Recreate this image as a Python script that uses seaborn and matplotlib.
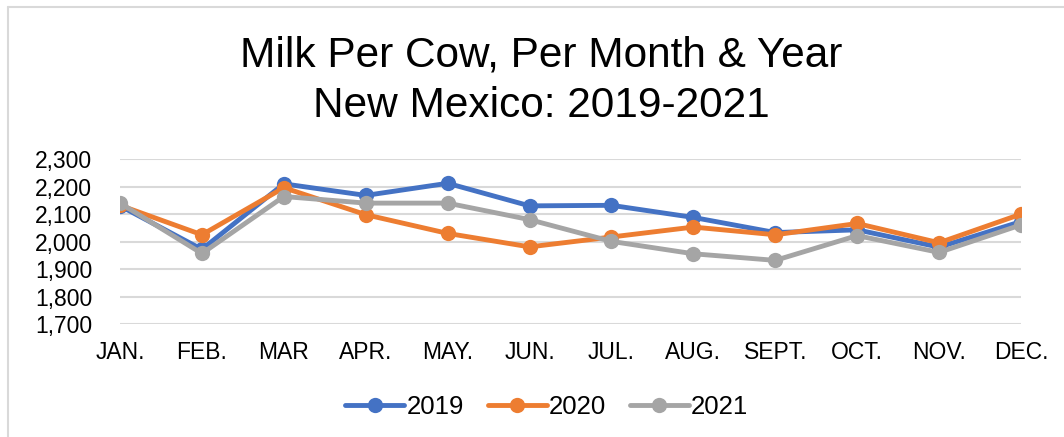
import numpy as np
import pandas as pd
import matplotlib
matplotlib.use("Agg")
import matplotlib.pyplot as plt
import seaborn as sns
from matplotlib.lines import Line2D
from matplotlib.ticker import FuncFormatter

# === DATA ===
months = ["JAN.", "FEB.", "MAR", "APR.", "MAY.", "JUN.", "JUL.", "AUG.",
          "SEPT.", "OCT.", "NOV.", "DEC."]
milk_2019 = [2130, 1972, 2210, 2168, 2212, 2130, 2132, 2088, 2033, 2043, 1980, 2073]
milk_2020 = [2132, 2025, 2196, 2098, 2030, 1981, 2017, 2053, 2025, 2066, 1996, 2100]
milk_2021 = [2140, 1957, 2164, 2140, 2140, 2080, 2001, 1956, 1932, 2022, 1961, 2061]
years = ["2019", "2020", "2021"]
colors = ["#4472C4", "#ED7D31", "#A5A5A5"]

df = pd.DataFrame({"month": months * 3,
                   "pos": list(range(12)) * 3,
                   "year": sum([[y] * 12 for y in years], []),
                   "milk": milk_2019 + milk_2020 + milk_2021})

# === SETTINGS ===
sns.set_style("white")
plt.rcParams["font.family"] = ["Liberation Sans", "DejaVu Sans"]
plt.rcParams["text.color"] = "black"

fig = plt.figure(figsize=(10.64, 4.37), dpi=100)
ax = fig.add_axes([0.1128, 0.258, 0.8468, 0.378])

sns.lineplot(data=df, x="pos", y="milk", hue="year", palette=colors,
             marker="o", markersize=11, markeredgewidth=0, linewidth=3.5,
             legend=False, ax=ax, zorder=3)

ax.set_xlim(0, 11)
ax.set_ylim(1700, 2300)
ax.set_yticks(range(1700, 2301, 100))
ax.yaxis.set_major_formatter(FuncFormatter(lambda v, p: f"{int(v):,}"))
ax.set_xticks(range(12))
ax.set_xticklabels(months)
ax.tick_params(axis="both", labelsize=16.5, colors="black", length=0)
ax.tick_params(axis="y", pad=20)
ax.tick_params(axis="x", pad=12)
ax.set_xlabel("")
ax.set_ylabel("")
ax.grid(axis="y", color="#D9D9D9", linewidth=1.5, zorder=0)
ax.grid(axis="x", visible=False)
for s in ax.spines.values():
    s.set_visible(False)

# title, two lines
fig.text(0.509, 0.847, "Milk Per Cow, Per Month & Year",
         ha="center", va="baseline", fontsize=30.5, color="black")
fig.text(0.509, 0.732, "New Mexico: 2019-2021",
         ha="center", va="baseline", fontsize=30.5, color="black")

handles = [Line2D([0], [0], color=c, linewidth=3.5, marker="o", markersize=11,
                  markeredgewidth=0) for c in colors]
fig.legend(handles, years, loc="center", bbox_to_anchor=(0.514, 0.068), ncol=3,
           frameon=False, fontsize=18.5, handlelength=2.3, handletextpad=0.1,
           columnspacing=0.9, labelcolor="black")

# chart border (top and left edges visible)
fig.add_artist(Line2D([0.0075, 0.0075], [0, 0.983], transform=fig.transFigure,
                      color="#D9D9D9", linewidth=1.5))
fig.add_artist(Line2D([0.0075, 1], [0.983, 0.983], transform=fig.transFigure,
                      color="#D9D9D9", linewidth=1.5))

plt.savefig("out.png", dpi=100)
plt.close()
